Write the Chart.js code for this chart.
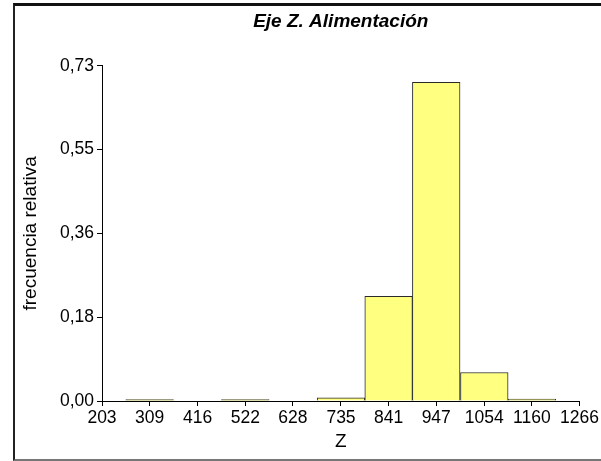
<!DOCTYPE html>
<html>
<head>
<meta charset="utf-8">
<script src="https://cdn.jsdelivr.net/npm/chart.js@4/dist/chart.umd.min.js"></script>
<style>
  body { margin: 0; background: #fff; }
  #wrap { position: relative; width: 601px; height: 461px; overflow: hidden; }
  #marco {
    position: absolute; left: 13px; top: 3px; width: 650px; height: 453px;
    border-top: 3px solid #111; border-left: 2px solid #222; border-bottom: 2px solid #777;
  }
  #grafico { position: absolute; left: 0; top: 0; }
</style>
</head>
<body>
<div id="wrap">
  <div id="marco"></div>
  <canvas id="grafico" width="601" height="461"></canvas>
</div>
<script>
// Datos del histograma (centros de clase y frecuencia relativa)
const centrosClase = [309, 416, 522, 628, 735, 841, 947, 1054, 1160];
const frecRelativa = [0.003, 0, 0.003, 0, 0.007, 0.228, 0.694, 0.062, 0.004];

// Marcas de los ejes
const xTicks = [203, 309, 416, 522, 628, 735, 841, 947, 1054, 1160, 1266];
const xTickLabels = ['203', '309', '416', '522', '628', '735', '841', '947', '1054', '1160', '1266'];
const yTicks = [0, 0.1825, 0.365, 0.5475, 0.73];
const yTickLabels = ['0,00', '0,18', '0,36', '0,55', '0,73'];

const fuente = 'Arial, "Liberation Sans", sans-serif';

// centrar el titulo sobre el area del grafico, no sobre todo el canvas
const tituloCentrado = {
  id: 'tituloCentrado',
  afterLayout(chart) {
    if (chart.titleBlock) {
      chart.titleBlock.left = chart.chartArea.left;
      chart.titleBlock.right = chart.chartArea.right;
    }
  }
};

const ctx = document.getElementById('grafico').getContext('2d');
new Chart(ctx, {
  type: 'bar',
  data: {
    datasets: [{
      label: 'frecuencia relativa',
      data: centrosClase.map((c, i) => ({ x: c, y: frecRelativa[i] })),
      backgroundColor: '#ffff80',
      borderColor: '#2a2a2a',
      borderWidth: 1,
      barPercentage: 1,
      categoryPercentage: 1
    }]
  },
  plugins: [tituloCentrado],
  options: {
    responsive: false,
    animation: false,
    layout: { padding: { left: 0, right: 21, top: 0, bottom: 0 } },
    plugins: {
      legend: { display: false },
      tooltip: { enabled: false },
      title: {
        display: true,
        text: 'Eje Z. Alimentación',
        color: '#000',
        font: { family: fuente, size: 19, weight: 'bold', style: 'italic' },
        padding: { top: 10, bottom: 33 }
      }
    },
    scales: {
      x: {
        type: 'linear',
        min: 203, max: 1266,
        offset: false,
        afterBuildTicks: s => { s.ticks = xTicks.map(v => ({ value: v })); },
        afterFit: s => { s.height = 60; },
        ticks: {
          autoSkip: false, maxRotation: 0, padding: 2,
          color: '#000',
          font: { family: fuente, size: 17.5 },
          callback: (v, i) => xTickLabels[i]
        },
        grid: { offset: false, drawOnChartArea: false, drawTicks: true, tickLength: 5, color: '#000' },
        border: { display: true, color: '#000', width: 1 },
        title: {
          display: true, text: 'Z', color: '#000',
          font: { family: fuente, size: 19 },
          padding: { top: 0, bottom: 8 }
        }
      },
      y: {
        min: 0, max: 0.73,
        afterBuildTicks: s => { s.ticks = yTicks.map(v => ({ value: v })); },
        afterFit: s => { s.width = 102; },
        ticks: {
          padding: 3,
          color: '#000',
          font: { family: fuente, size: 17.5 },
          callback: (v, i) => yTickLabels[i]
        },
        grid: { drawOnChartArea: false, drawTicks: true, tickLength: 5, color: '#000' },
        border: { display: true, color: '#000', width: 1 },
        title: {
          display: true, text: 'frecuencia relativa', color: '#000',
          font: { family: fuente, size: 19 },
          padding: { top: 19, bottom: 4 }
        }
      }
    }
  }
});
</script>
</body>
</html>
